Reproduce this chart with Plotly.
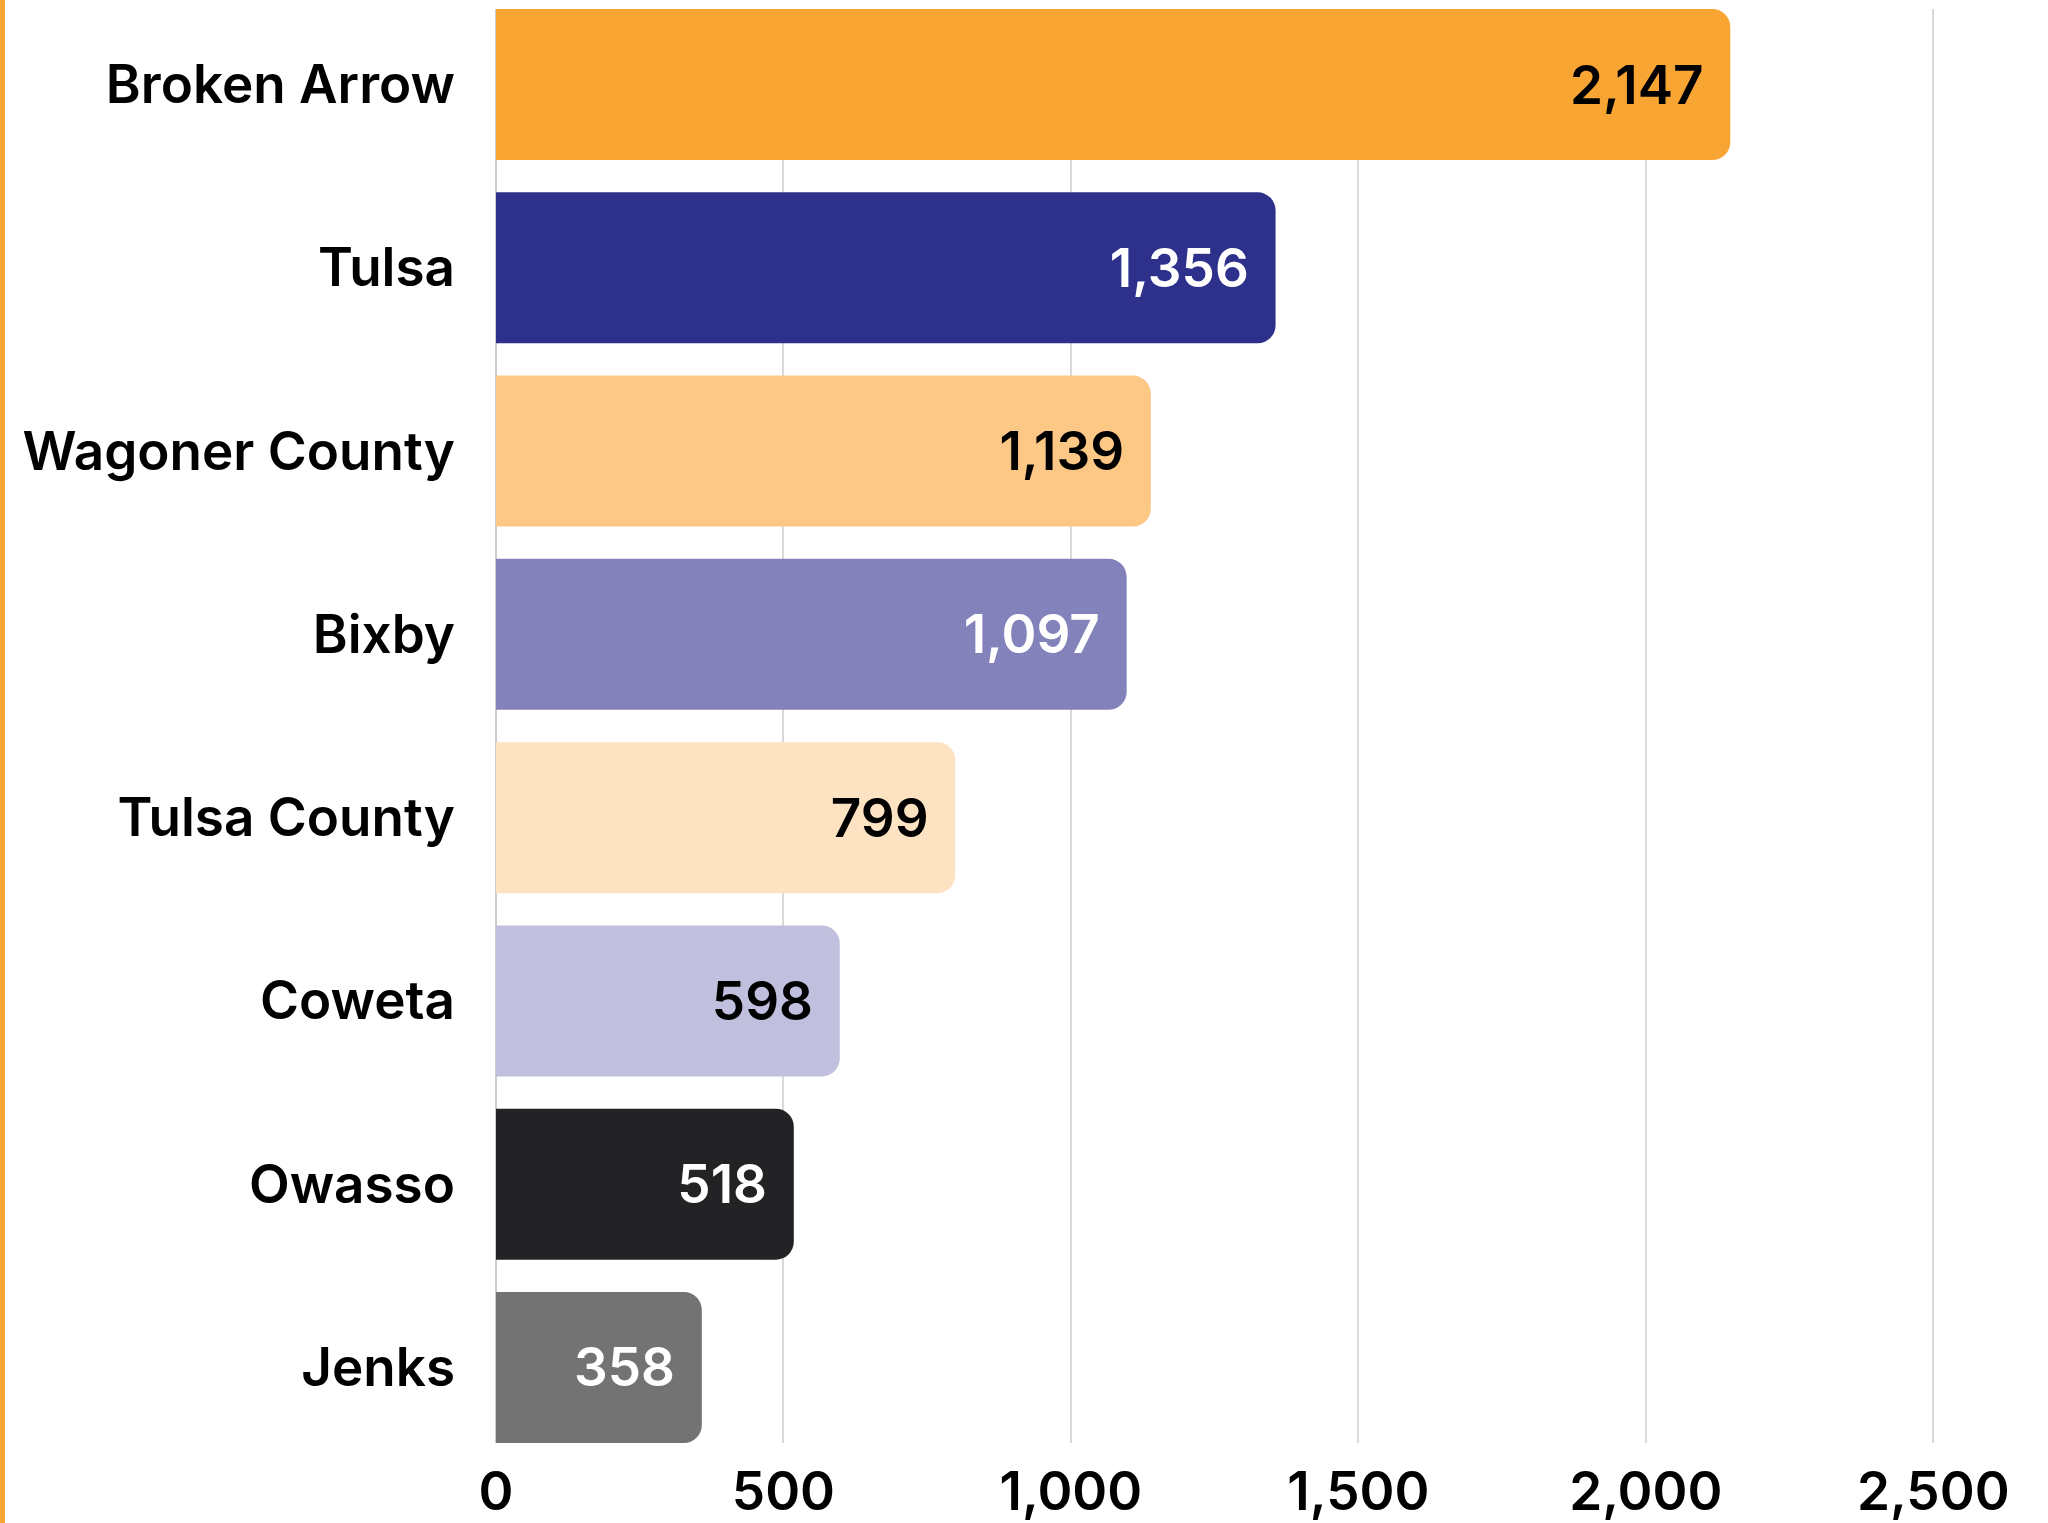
import plotly.graph_objects as go

categories = ["Broken Arrow", "Tulsa", "Wagoner County", "Bixby", "Tulsa County", "Coweta", "Owasso", "Jenks"]
values = [2147, 1356, 1139, 1097, 799, 598, 518, 358]
bar_colors = ["#F9A533", "#2E318C", "#FDC886", "#8482BB", "#FEE3C3", "#C0BFDE", "#232224", "#737373"]
text_colors = ["#000000", "#FFFFFF", "#000000", "#FFFFFF", "#000000", "#000000", "#FFFFFF", "#FFFFFF"]
x_ticks = [0, 500, 1000, 1500, 2000, 2500]
x_tick_labels = ["0", "500", "1,000", "1,500", "2,000", "2,500"]

W, H = 2048, 1523
ml, mr, mt, mb = 496, 86, 9, 80
plot_w = W - ml - mr

FONT = "Inter"
FS = 53

fig = go.Figure(go.Bar(
    x=values,
    y=categories,
    orientation="h",
    marker=dict(color=bar_colors, line=dict(width=0)),
    text=[f"{v:,}\u2009" for v in values],
    textposition="inside",
    insidetextanchor="end",
    textangle=0,
    insidetextfont=dict(family=FONT, size=FS, color=text_colors, weight=600),
    hoverinfo="skip",
))

fig.update_layout(
    width=W, height=H,
    margin=dict(l=ml, r=mr, t=mt, b=mb, pad=0),
    paper_bgcolor="white",
    plot_bgcolor="white",
    bargap=0.176,
    barcornerradius=18,
    showlegend=False,
    xaxis=dict(
        range=[0, 2550],
        tickvals=x_ticks,
        ticktext=x_tick_labels,
        showgrid=True,
        gridcolor="#D9D9D9",
        gridwidth=2,
        zeroline=True,
        zerolinecolor="#CCCCCC",
        zerolinewidth=2,
        showline=False,
        ticks="",
        automargin=False,
        ticklabelstandoff=13,
        tickfont=dict(family=FONT, size=FS, color="#000000", weight=600),
    ),
    yaxis=dict(
        range=[7.412, -0.412],
        showgrid=False,
        zeroline=False,
        showline=False,
        ticks="",
        automargin=False,
        ticklabelstandoff=40,
        tickfont=dict(family=FONT, size=FS, color="#000000", weight=600),
    ),
    shapes=[dict(
        type="rect", xref="paper", yref="paper",
        x0=-ml / plot_w, x1=-(ml - 5) / plot_w,
        y0=-1, y1=2,
        fillcolor="#F9A533", line=dict(width=0), layer="above",
    )],
)

fig.write_html(
    "out.html",
    config={"displayModeBar": False},
    post_script="document.body.style.margin='0';document.body.style.padding='0';",
)
